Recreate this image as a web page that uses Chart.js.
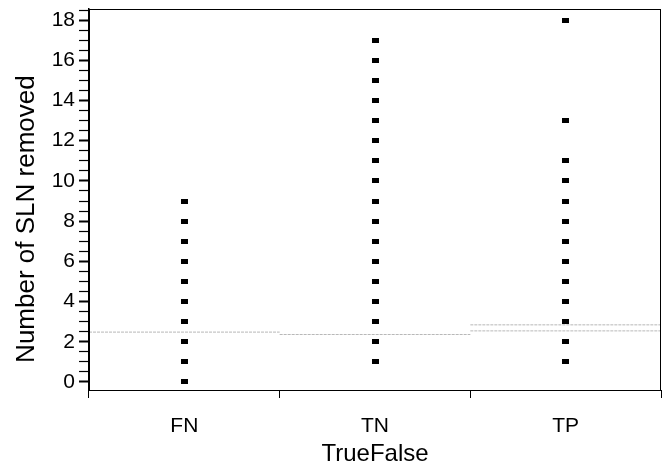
<!DOCTYPE html>
<html>
<head>
<meta charset="utf-8">
<script src="https://cdn.jsdelivr.net/npm/chart.js@4"></script>
<style>
  html, body { margin: 0; padding: 0; background: #fff; }
  #wrap { width: 669px; height: 473px; }
</style>
</head>
<body>
<div id="wrap"><canvas id="slnChart"></canvas></div>
<script>
// categories on the x axis
const categories = ['FN', 'TN', 'TP'];

// number of SLN removed, one point per distinct value
const fnValues = [0, 1, 2, 3, 4, 5, 6, 7, 8, 9];
const tnValues = [1, 2, 3, 4, 5, 6, 7, 8, 9, 10, 11, 12, 13, 14, 15, 16, 17];
const tpValues = [1, 2, 3, 4, 5, 6, 7, 8, 9, 10, 11, 13, 18];

// grey reference levels per group (category index, level)
const levelCategory = [0, 1, 2, 2];
const levelValue = [2.48, 2.36, 2.84, 2.54];

// y axis: labelled every 2, small ticks every 0.5
const yTickMax = 18.5;
const yTickStep = 0.5;

const yTitle = 'Number of SLN removed';
const xTitle = 'TrueFalse';

const fontFamily = '"Liberation Sans", Arial, sans-serif';

document.addEventListener('DOMContentLoaded', function() {
    const ctx = document.getElementById('slnChart');

    // small flat square marker like the original
    const marker = document.createElement('canvas');
    marker.width = 7;
    marker.height = 5;
    const mctx = marker.getContext('2d');
    mctx.fillStyle = '#000';
    mctx.fillRect(0, 0, 7, 5);

    // dots for each group
    const pointData = [];
    [fnValues, tnValues, tpValues].forEach((vals, i) => {
        vals.forEach(v => pointData.push({ x: categories[i], y: v }));
    });

    // one short grey segment per level, spanning its category
    const levelSets = levelValue.map((v, i) => ({
        type: 'line',
        xAxisID: 'x2',
        data: [{ x: levelCategory[i], y: v }, { x: levelCategory[i] + 1, y: v }],
        borderColor: '#b8b8b8',
        borderWidth: 1,
        borderDash: [3, 1],
        pointRadius: 0,
        fill: false
    }));

    // plot frame + y title (placed a bit below centre like the original)
    const framePlugin = {
        id: 'frame',
        afterDraw(chart) {
            const a = chart.chartArea;
            const c = chart.ctx;
            c.save();
            c.strokeStyle = '#000';
            c.lineWidth = 1;
            c.strokeRect(a.left + 0.5, a.top + 0.5, a.right - a.left - 1, a.bottom - a.top);
            c.translate(27, chart.scales.y.getPixelForValue(8.1));
            c.rotate(-Math.PI / 2);
            c.fillStyle = '#000';
            c.font = '26px ' + fontFamily;
            c.textAlign = 'center';
            c.textBaseline = 'middle';
            c.fillText(yTitle, 0, 0);
            c.restore();
        }
    };

    const isEven = v => Math.abs(v - Math.round(v)) < 1e-6 && Math.round(v) % 2 === 0;

    new Chart(ctx, {
        type: 'scatter',
        data: {
            labels: categories,
            datasets: [
                {
                    data: pointData,
                    pointStyle: marker,
                    pointRadius: 3,
                    backgroundColor: '#000',
                    borderColor: '#000',
                    borderWidth: 0
                },
                ...levelSets
            ]
        },
        options: {
            responsive: true,
            maintainAspectRatio: false,
            animation: false,
            layout: { padding: { top: 9, right: 8, left: 0, bottom: 0 } },
            plugins: {
                legend: { display: false },
                tooltip: { enabled: false }
            },
            scales: {
                x: {
                    type: 'category',
                    labels: categories,
                    offset: true,
                    grid: {
                        offset: true,
                        drawOnChartArea: false,
                        color: '#000',
                        tickLength: 8
                    },
                    border: { color: '#000' },
                    ticks: {
                        color: '#000',
                        font: { family: fontFamily, size: 21 },
                        padding: 16
                    },
                    title: {
                        display: true,
                        text: xTitle,
                        color: '#000',
                        font: { family: fontFamily, size: 24 },
                        padding: { top: 4, bottom: 4 }
                    },
                    afterFit(scale) { scale.height = 83; }
                },
                x2: {
                    type: 'linear',
                    display: false,
                    min: 0,
                    max: 3
                },
                y: {
                    min: -0.4,
                    max: 18.55,
                    grid: {
                        drawOnChartArea: false,
                        color: '#000',
                        tickLength: 10,
                        tickWidth: c => (c.tick && isEven(c.tick.value)) ? 2 : 1.2
                    },
                    border: { color: '#000', width: 1.5 },
                    ticks: {
                        autoSkip: false,
                        color: '#000',
                        padding: 4,
                        font: { family: fontFamily, size: 21 },
                        callback: v => isEven(v) ? String(Math.round(v)) : ''
                    },
                    afterBuildTicks(scale) {
                        const t = [];
                        for (let i = 0; i * yTickStep <= yTickMax + 1e-9; i++) {
                            t.push({ value: i * yTickStep });
                        }
                        scale.ticks = t;
                    },
                    title: { display: false },
                    afterFit(scale) {
                        scale.width = 89;
                        scale.paddingTop = 0;
                        scale.paddingBottom = 0;
                    }
                }
            }
        },
        plugins: [framePlugin]
    });
});
</script>
</body>
</html>
